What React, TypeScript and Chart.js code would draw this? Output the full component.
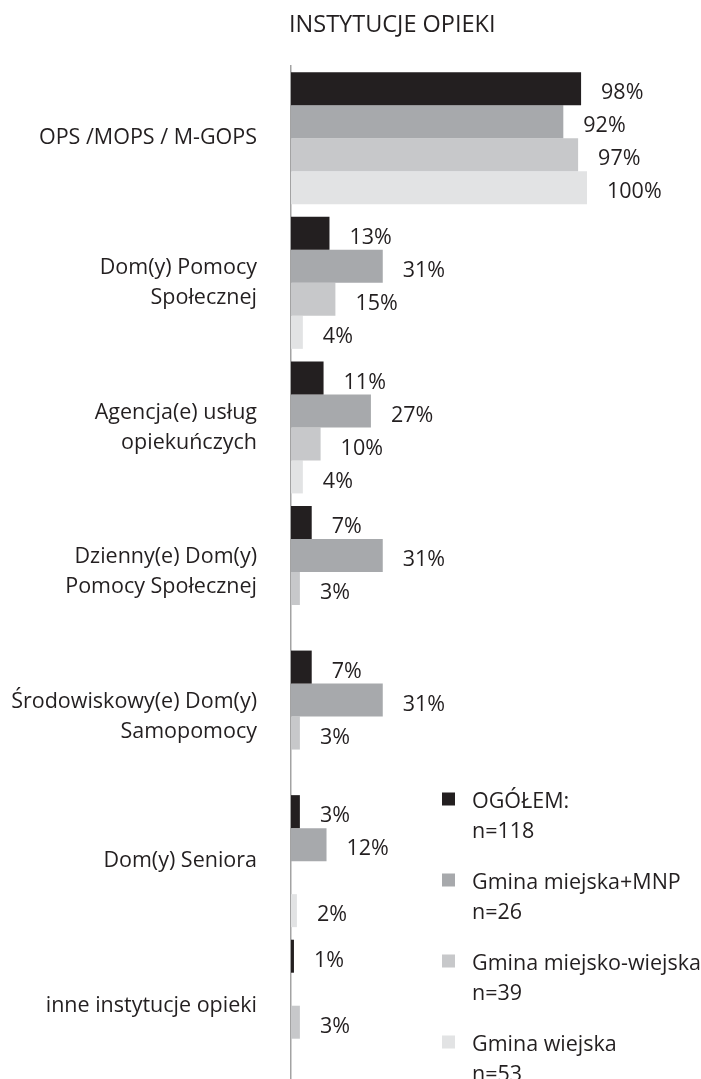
import React, { useEffect, useRef } from "react";
import { Chart, registerables } from "chart.js";

Chart.register(...registerables);

const title = "INSTYTUCJE OPIEKI";
const categories: (string | string[])[] = [
  "OPS /MOPS / M-GOPS",
  ["Dom(y) Pomocy", "Społecznej"],
  ["Agencja(e) usług", "opiekuńczych"],
  ["Dzienny(e) Dom(y)", "Pomocy Społecznej"],
  ["Środowiskowy(e) Dom(y)", "Samopomocy"],
  "Dom(y) Seniora",
  "inne instytucje opieki",
];
const ogolem = [98, 13, 11, 7, 7, 3, 1];
const gminaMiejska = [92, 31, 27, 31, 31, 12, null];
const gminaMiejskoWiejska = [97, 15, 10, 3, 3, null, 3];
const gminaWiejska = [100, 4, 4, null, null, 2, null];
const seriesNames = ["OGÓŁEM:", "Gmina miejska+MNP", "Gmina miejsko-wiejska", "Gmina wiejska"];
const seriesN = ["n=118", "n=26", "n=39", "n=53"];
const seriesColors = ["#231f20", "#a7a9ac", "#c7c8ca", "#e2e3e4"];

const FONT = "'Open Sans', 'DejaVu Sans', sans-serif";
const TEXT = "#231f20";

const valueLabels = {
  id: "valueLabels",
  afterDatasetsDraw(chart: any) {
    const ctx = chart.ctx;
    ctx.save();
    ctx.font = `21.5px ${FONT}`;
    ctx.fillStyle = TEXT;
    ctx.textAlign = "left";
    ctx.textBaseline = "alphabetic";
    chart.data.datasets.forEach((ds: any, i: number) => {
      const meta = chart.getDatasetMeta(i);
      meta.data.forEach((el: any, j: number) => {
        const v = ds.data[j];
        if (v === null || v === undefined) return;
        ctx.fillText(`${v}%`, el.x + 20, el.y + 10.7);
      });
    });
    ctx.restore();
  },
};

const titleAndLegend = {
  id: "titleAndLegend",
  afterDraw(chart: any) {
    const ctx = chart.ctx;
    ctx.save();
    ctx.fillStyle = TEXT;
    ctx.textAlign = "left";
    ctx.textBaseline = "alphabetic";
    ctx.font = `23.5px ${FONT}`;
    ctx.fillText(title, chart.chartArea.left - 2, 32);

    ctx.font = `21.5px ${FONT}`;
    const lx = 442;
    const ly0 = 799;
    const step = 81;
    chart.data.datasets.forEach((ds: any, i: number) => {
      const cy = ly0 + i * step;
      ctx.fillStyle = ds.backgroundColor;
      ctx.fillRect(lx, cy - 6.5, 13, 13);
      ctx.fillStyle = TEXT;
      ctx.fillText(seriesNames[i], lx + 30, cy + 8.5);
      ctx.fillText(seriesN[i], lx + 30, cy + 38.5);
    });
    ctx.restore();
  },
};

export default function App() {
  const ref = useRef<HTMLCanvasElement | null>(null);

  useEffect(() => {
    if (!ref.current) return;
    const chart = new Chart(ref.current, {
      type: "bar",
      data: {
        labels: categories,
        datasets: [
          { label: seriesNames[0], data: ogolem, backgroundColor: seriesColors[0] },
          { label: seriesNames[1], data: gminaMiejska, backgroundColor: seriesColors[1] },
          { label: seriesNames[2], data: gminaMiejskoWiejska, backgroundColor: seriesColors[2] },
          { label: seriesNames[3], data: gminaWiejska, backgroundColor: seriesColors[3] },
        ],
      },
      options: {
        indexAxis: "y",
        animation: false,
        responsive: false,
        devicePixelRatio: 1,
        layout: { padding: { top: 66, bottom: 1, left: 0, right: 114 } },
        datasets: {
          bar: { categoryPercentage: 0.913, barPercentage: 1.0, borderWidth: 0 },
        },
        scales: {
          x: { display: false, min: 0, max: 100 },
          y: {
            grid: { display: false, drawTicks: false },
            border: { display: true, color: "#a3a3a3", width: 1.5 },
            ticks: {
              padding: 34,
              color: TEXT,
              font: { family: FONT, size: 21.5, lineHeight: 1.4 },
            },
            afterFit(scale: any) {
              scale.width = 291;
              scale.paddingTop = 0;
              scale.paddingBottom = 0;
            },
          },
        },
        plugins: {
          legend: { display: false },
          title: { display: false },
          tooltip: { enabled: false },
        },
      },
      plugins: [valueLabels, titleAndLegend],
    } as any);
    return () => chart.destroy();
  }, []);

  return (
    <div style={{ position: "absolute", left: 0, top: 0, width: 701, height: 1079, background: "#fff" }}>
      <canvas ref={ref} width={701} height={1079} style={{ display: "block" }} />
    </div>
  );
}
